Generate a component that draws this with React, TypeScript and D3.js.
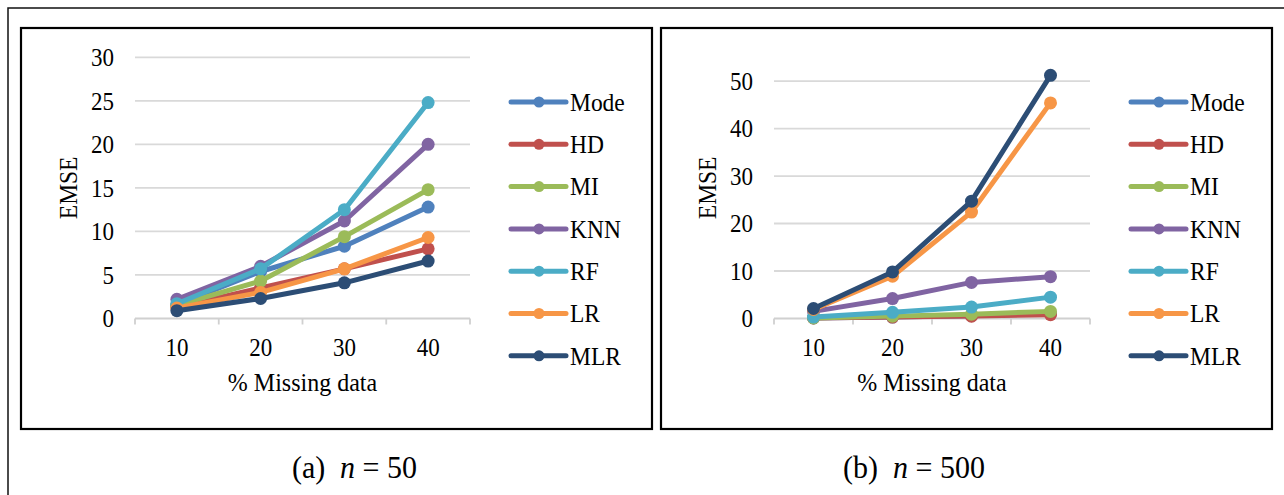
import React, { useEffect, useRef } from "react";
import * as d3 from "d3";

// --- Data
const missingPct = ["10", "20", "30", "40"];
const methods = ["Mode", "HD", "MI", "KNN", "RF", "LR", "MLR"];
const methodColors = ["#4F81BD", "#C0504D", "#9BBB59", "#8064A2", "#4BACC6", "#F79646", "#2C4D75"];

// EMSE for n = 50, one row per method (same order as `methods`)
const emseN50 = [
  [1.6, 5.4, 8.3, 12.8],
  [1.3, 3.5, 5.7, 8.0],
  [1.5, 4.3, 9.4, 14.8],
  [2.2, 6.0, 11.2, 20.0],
  [1.7, 5.7, 12.5, 24.8],
  [1.2, 3.0, 5.7, 9.3],
  [0.9, 2.3, 4.1, 6.6],
];

// EMSE for n = 500
const emseN500 = [
  [0.1, 0.3, 0.6, 1.0],
  [0.1, 0.3, 0.5, 0.8],
  [0.1, 0.5, 0.9, 1.5],
  [1.5, 4.2, 7.6, 8.8],
  [0.3, 1.3, 2.4, 4.5],
  [1.9, 8.9, 22.4, 45.4],
  [2.1, 9.8, 24.7, 51.2],
];

const ticksN50 = [0, 5, 10, 15, 20, 25, 30];
const ticksN500 = [0, 10, 20, 30, 40, 50];

const FONT = "Liberation Serif, DejaVu Serif, serif";
const STRETCH = 1.08; // the source text is slightly taller than wide

const App: React.FC = () => {
  const ref = useRef<SVGSVGElement | null>(null);

  useEffect(() => {
    if (!ref.current) return;
    const svg = d3.select(ref.current);
    svg.selectAll("*").remove();

    // outer frame (cut off at right / bottom)
    svg
      .append("path")
      .attr("d", "M8,495 L8,8 L1284,8")
      .attr("fill", "none")
      .attr("stroke", "#111")
      .attr("stroke-width", 1.5);

    const panels = [
      {
        box: [21, 28, 652, 429],
        plot: [135, 470],
        yMax: 30,
        ticks: ticksN50,
        values: emseN50,
        caption: "(a)",
        capX: 292,
        capGap: 48,
        n: "50",
      },
      {
        box: [661, 28, 1272, 429],
        plot: [774, 1090],
        yMax: 55,
        ticks: ticksN500,
        values: emseN500,
        caption: "(b)",
        capX: 843,
        capGap: 50,
        n: "500",
      },
    ];

    const top = 57.3;
    const bottom = 318.5;

    panels.forEach((p) => {
      const g = svg.append("g").attr("font-family", FONT).attr("fill", "#000");
      const [bx0, by0, bx1, by1] = p.box;

      // panel border
      g.append("rect")
        .attr("x", bx0)
        .attr("y", by0)
        .attr("width", bx1 - bx0)
        .attr("height", by1 - by0)
        .attr("fill", "white")
        .attr("stroke", "#000")
        .attr("stroke-width", 2.2);

      const x = d3.scaleBand<string>().domain(missingPct).range([p.plot[0], p.plot[1]]).padding(0);
      const y = d3.scaleLinear().domain([0, p.yMax]).range([bottom, top]);
      const cx = (d: string) => (x(d) ?? 0) + x.bandwidth() / 2;

      // gridlines
      g.selectAll(".grid")
        .data(p.ticks.filter((t) => t > 0))
        .join("line")
        .attr("x1", p.plot[0])
        .attr("x2", p.plot[1])
        .attr("y1", (d) => y(d))
        .attr("y2", (d) => y(d))
        .attr("stroke", "#d9d9d9")
        .attr("stroke-width", 1.8);

      // x axis line + ticks
      g.append("line")
        .attr("x1", p.plot[0])
        .attr("x2", p.plot[1])
        .attr("y1", y(0))
        .attr("y2", y(0))
        .attr("stroke", "#d0d0d0")
        .attr("stroke-width", 1.8);
      const edges = missingPct.map((d) => x(d) ?? 0).concat([p.plot[1]]);
      g.selectAll(".tick")
        .data(edges)
        .join("line")
        .attr("x1", (d) => d)
        .attr("x2", (d) => d)
        .attr("y1", y(0))
        .attr("y2", y(0) + 6)
        .attr("stroke", "#d0d0d0")
        .attr("stroke-width", 1.8);

      // y tick labels
      g.selectAll(".ylab")
        .data(p.ticks)
        .join("text")
        .attr("transform", (d) => `translate(${p.plot[0] - 21},${y(d)}) scale(1,${STRETCH})`)
        .attr("dy", "0.35em")
        .attr("text-anchor", "end")
        .attr("font-size", 23)
        .text((d) => d);

      // x tick labels
      g.selectAll(".xlab")
        .data(missingPct)
        .join("text")
        .attr("transform", (d) => `translate(${cx(d)},347) scale(1,${STRETCH})`)
        .attr("dy", "0.35em")
        .attr("text-anchor", "middle")
        .attr("font-size", 23)
        .text((d) => d);

      // axis titles
      g.append("text")
        .attr("transform", `translate(${(p.plot[0] + p.plot[1]) / 2},391) scale(1,${STRETCH})`)
        .attr("text-anchor", "middle")
        .attr("font-size", 24)
        .text("% Missing data");

      g.append("text")
        .attr(
          "transform",
          `translate(${p.plot[0] - 66.5},${(top + bottom) / 2}) rotate(-90) scale(1,${STRETCH})`
        )
        .attr("dy", "0.35em")
        .attr("text-anchor", "middle")
        .attr("font-size", 23.5)
        .text("EMSE");

      // series
      const line = d3
        .line<number>()
        .x((_, i) => cx(missingPct[i]))
        .y((d) => y(d));

      methods.forEach((m, k) => {
        const vals = p.values[k];
        g.append("path")
          .attr("d", line(vals))
          .attr("fill", "none")
          .attr("stroke", methodColors[k])
          .attr("stroke-width", 5)
          .attr("stroke-linejoin", "round")
          .attr("stroke-linecap", "round");
        g.selectAll(`.pt${k}`)
          .data(vals)
          .join("circle")
          .attr("cx", (_, i) => cx(missingPct[i]))
          .attr("cy", (d) => y(d))
          .attr("r", 6.5)
          .attr("fill", methodColors[k]);
      });

      // legend
      const lx = p.plot[1] + 41;
      const leg = g
        .selectAll(".leg")
        .data(methods)
        .join("g")
        .attr("transform", (_, i) => `translate(${lx},${102 + i * 42.3})`);
      leg
        .append("line")
        .attr("x1", 0)
        .attr("x2", 55)
        .attr("stroke", (_, i) => methodColors[i])
        .attr("stroke-width", 5)
        .attr("stroke-linecap", "round");
      leg
        .append("circle")
        .attr("cx", 28)
        .attr("r", 5.5)
        .attr("fill", (_, i) => methodColors[i]);
      leg
        .append("text")
        .attr("transform", `translate(59,0) scale(1,${STRETCH})`)
        .attr("dy", "0.35em")
        .attr("font-size", 23.5)
        .text((d) => d);

      // caption
      const cap = g
        .append("text")
        .attr("transform", `translate(${p.capX},478) scale(1,${STRETCH})`)
        .attr("font-size", 30);
      cap.append("tspan").text(p.caption);
      cap.append("tspan").attr("x", p.capGap).attr("font-style", "italic").text("n");
      cap.append("tspan").text(` = ${p.n}`);
    });

    return () => {
      svg.selectAll("*").remove();
    };
  }, []);

  return (
    <svg
      ref={ref}
      width={1284}
      height={495}
      style={{ position: "absolute", left: 0, top: 0, display: "block", background: "white" }}
    />
  );
};

export default App;
